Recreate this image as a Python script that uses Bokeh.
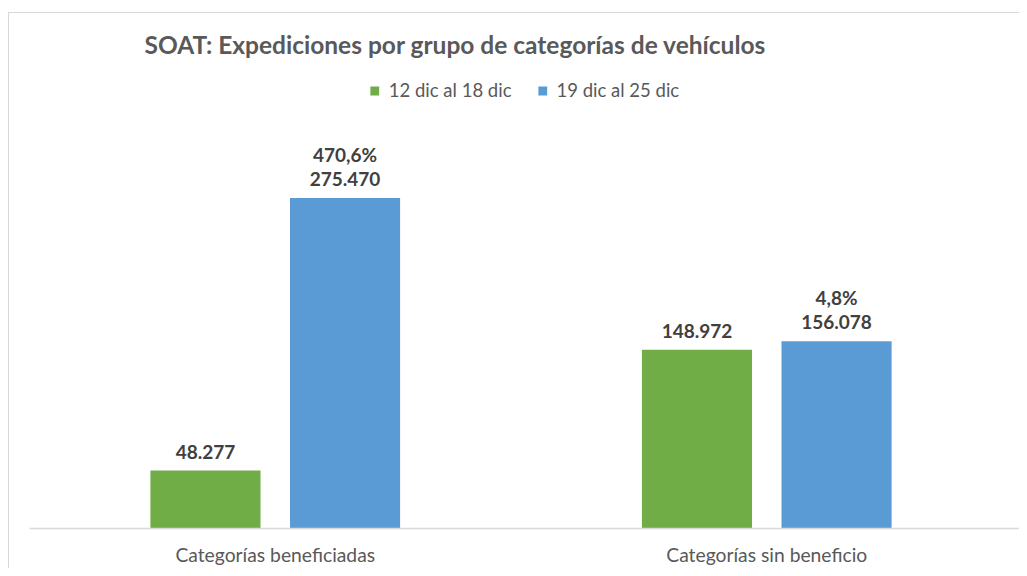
from bokeh.plotting import figure
from bokeh.models import ColumnDataSource, Range1d, LabelSet, Legend, LegendItem, FixedTicker
from bokeh.core.properties import value
from bokeh.transform import dodge
from bokeh.embed import file_html
from bokeh.resources import INLINE

categories = ["Categorías beneficiadas", "Categorías sin beneficio"]
series_names = ["12 dic al 18 dic", "19 dic al 25 dic"]
week1 = [48277, 148972]
week2 = [275470, 156078]
week1_labels = ["48.277", "148.972"]
week2_labels = ["275.470", "156.078"]
change_labels = ["470,6%", "4,8%"]

GREEN = "#70AD47"
BLUE = "#5B9BD5"
TEXT = "#595959"
DATA = "#404040"
FONT = "Lato"

idx = list(range(len(categories)))
src = ColumnDataSource(dict(i=idx, cat=categories, w1=week1, w2=week2,
                            l1=week1_labels, l2=week2_labels, pct=change_labels))

p = figure(width=1019, height=568, x_range=Range1d(-0.5, 1.5142),
           y_range=Range1d(0, 388500), output_backend="svg", toolbar_location=None,
           min_border_left=29, min_border_right=0, min_border_bottom=40, min_border_top=62)

# chart-area border: left and top edges (right/bottom lie outside the picture, as in the reference)
p.border_fill_alpha = 0
p.styles = {"background-color": "white",
            "box-shadow": "inset 8px 12px 0 0 white, inset 9px 13px 0 0 #D9D9D9"}

p.title.text = "SOAT: Expediciones por grupo de categorías  de vehículos"
p.title.text_font = FONT
p.title.text_font_size = "24.5px"
p.title.text_font_style = "bold"
p.title.text_color = TEXT
p.title.align = "left"
p.title.offset = 115
p.title.standoff = 8

OFF = 0.142
r1 = p.vbar(x=dodge("i", -OFF), top="w1", width=0.224, source=src,
            fill_color=GREEN, line_color=None)
r2 = p.vbar(x=dodge("i", OFF), top="w2", width=0.224, source=src,
            fill_color=BLUE, line_color=None)

lab_style = dict(text_font=value(FONT), text_font_size="19px", text_font_style="bold",
                 text_color=DATA, text_align="center", text_baseline="bottom", source=src)
p.add_layout(LabelSet(x=dodge("i", -OFF), y="w1", text="l1", y_offset=12, **lab_style))
p.add_layout(LabelSet(x=dodge("i", OFF), y="w2", text="l2", y_offset=12, **lab_style))
p.add_layout(LabelSet(x=dodge("i", OFF), y="w2", text="pct", y_offset=32, **lab_style))

legend = Legend(items=[LegendItem(label=series_names[0], renderers=[r1]),
                       LegendItem(label=series_names[1], renderers=[r2])],
                orientation="horizontal", location="top_center", margin=17, padding=0,
                spacing=25, glyph_width=11, glyph_height=11, label_standoff=9,
                label_text_font=FONT, label_text_font_size="18.5px", label_text_color=TEXT,
                label_height=18, border_line_color=None, background_fill_alpha=0)
p.add_layout(legend)

p.xgrid.grid_line_color = None
p.ygrid.grid_line_color = None
p.yaxis.visible = False
p.outline_line_color = None
p.xaxis.ticker = FixedTicker(ticks=idx)
p.xaxis.major_label_overrides = {i: c for i, c in zip(idx, categories)}
p.xaxis.axis_line_color = "#D9D9D9"
p.xaxis.axis_line_width = 1.3
p.xaxis.major_tick_line_color = None
p.xaxis.minor_tick_line_color = None
p.xaxis.major_label_text_font = FONT
p.xaxis.major_label_text_font_size = "19.3px"
p.xaxis.major_label_text_color = TEXT
p.xaxis.major_label_standoff = 8

open("out.html", "w").write(file_html(p, INLINE))
